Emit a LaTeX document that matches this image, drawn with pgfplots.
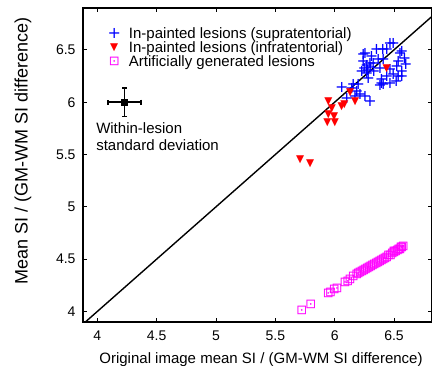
\documentclass[border=0pt]{standalone}
\usepackage{fontspec}
\setmainfont{Liberation Sans}
\newfontfamily\symf{DejaVu Sans}
\usepackage{pgfplots}
\pgfplotsset{compat=1.18}
\definecolor{gpblue}{RGB}{0,0,255}
\definecolor{gpred}{RGB}{255,0,0}
\definecolor{gpmag}{RGB}{255,0,255}
\newcommand{\tkf}{\fontsize{14}{16}\selectfont}
\newcommand{\xlf}{\fontsize{15}{17}\selectfont}
\newcommand{\ylf}{\fontsize{18}{20}\selectfont}
\newcommand{\lgf}{\fontsize{15}{17}\selectfont}
\begin{document}
\begin{tikzpicture}
\begin{axis}[
  scale only axis,
  width=349pt, height=314pt,
  xmin=3.88, xmax=6.82, ymin=3.9, ymax=6.9,
  xtick={4,4.5,5,5.5,6,6.5},
  ytick={4,4.5,5,5.5,6,6.5},
  xticklabels={4,4.5,5,5.5,6,6.5},
  yticklabels={4,4.5,5,5.5,6,6.5},
  tick align=inside,
  major tick length=4pt,
  tick style={black, line width=0.8pt},
  axis line style={line width=1.4pt},
  /pgf/number format/assume math mode=true,
  tick label style={font=\tkf},
  xticklabel style={yshift=-5pt},
  yticklabel style={xshift=-4pt},
  xlabel={Original image mean SI / (GM-WM SI difference)},
  ylabel={Mean SI / (GM-WM SI difference)},
  xlabel style={font=\xlf, inner sep=0pt, at={(axis description cs:0.51,0)}, anchor=center, yshift=-38pt},
  ylabel style={font=\ylf, inner sep=0pt, at={(axis description cs:-0.172,0.545)}, anchor=center},
  legend style={draw=none, fill=none, at={(0.067,0.947)}, anchor=north west,
    font=\lgf, row sep=-2.5pt, inner sep=1pt,
    /tikz/every odd column/.append style={column sep=6pt}},
  legend cell align=left,
  clip=true,
  text mark as node=true,
]
\addplot[only marks, mark=text, text mark={+},
  text mark style={font=\symf\fontsize{16}{16}\selectfont, text=gpblue, anchor=center, inner sep=0pt}] coordinates {
(6.466,6.557) (6.494,6.564) (6.565,6.484) (6.405,6.507) (6.354,6.500)
(6.439,6.500) (6.256,6.468) (6.312,6.436) (6.242,6.452) (6.242,6.388)
(6.298,6.373) (6.410,6.405) (6.536,6.388) (6.523,6.341) (6.565,6.293)
(6.466,6.309) (6.382,6.325) (6.270,6.278) (6.228,6.293) (6.284,6.230)
(6.396,6.214) (6.439,6.245) (6.494,6.261) (6.536,6.245) (6.410,6.166)
(6.466,6.182) (6.382,6.157) (6.061,6.144) (6.144,6.135) (6.199,6.166)
(6.102,6.039) (6.172,6.054) (6.214,6.071) (6.256,6.054) (6.298,6.007)
(6.326,6.373) (6.551,6.469) (6.565,6.245) (6.396,6.182) (6.186,6.102)
(6.157,6.166) (6.368,6.405) (6.300,6.330) (6.270,6.350) (6.330,6.290)
(6.280,6.300) (6.250,6.320) (6.590,6.420) (6.600,6.360) (6.520,6.200)
};
\addlegendentry{In-painted lesions (supratentorial)}
\addplot[only marks, mark=text, text mark={▼},
  text mark style={font=\symf\fontsize{10.5}{10.5}\selectfont, text=gpred, anchor=center, inner sep=0pt}] coordinates {
(5.709,5.450) (5.793,5.412) (5.947,6.007) (5.976,5.934) (5.947,5.880)
(5.995,5.864) (5.939,5.801) (6.003,5.806) (6.060,5.959) (6.082,5.975)
(6.130,6.093) (6.172,6.007) (6.439,6.316)
};
\addlegendentry{In-painted lesions (infratentorial)}
\addplot[only marks, mark=text, text mark={⊡},
  text mark style={font=\symf\fontsize{13}{13}\selectfont, text=gpmag, anchor=center, inner sep=0pt}] coordinates {
(5.723,4.012) (5.799,4.067) (5.947,4.172) (5.965,4.185) (5.998,4.210)
(6.020,4.222) (6.088,4.280) (6.110,4.292) (6.130,4.305) (6.158,4.331)
(6.186,4.353) (6.200,4.360) (6.215,4.372) (6.230,4.380) (6.245,4.393)
(6.260,4.402) (6.275,4.414) (6.290,4.421) (6.305,4.433) (6.320,4.441)
(6.335,4.452) (6.350,4.462) (6.365,4.472) (6.380,4.481) (6.395,4.492)
(6.410,4.500) (6.425,4.512) (6.440,4.520) (6.455,4.532) (6.470,4.540)
(6.485,4.552) (6.500,4.560) (6.515,4.572) (6.530,4.580) (6.550,4.598)
(6.560,4.608) (6.578,4.623) (6.565,4.615) (6.540,4.590) (6.500,4.570)
};
\addlegendentry{Artificially generated lesions}
\addplot[black, line width=1.4pt, forget plot] coordinates {(3.5,3.5) (7.2,7.2)};
\addplot[black, only marks, mark=square*, mark size=3pt, forget plot,
  error bars/.cd, x dir=both, x explicit, y dir=both, y explicit,
  error bar style={line width=1.4pt},
  error mark options={rotate=90, mark size=2.5pt, line width=1.4pt}]
  coordinates {(4.23,6.0) +- (0.14,0.135)};
\node[anchor=north west, align=left, inner sep=0pt, font=\lgf]
  at (axis cs:3.99,5.81) {Within-lesion\\standard deviation};
\end{axis}
\pgfresetboundingbox
\useasboundingbox ([xshift=-83pt,yshift=-44pt]current axis.south west) rectangle ([yshift=8pt]current axis.north east);
\end{tikzpicture}
\end{document}
